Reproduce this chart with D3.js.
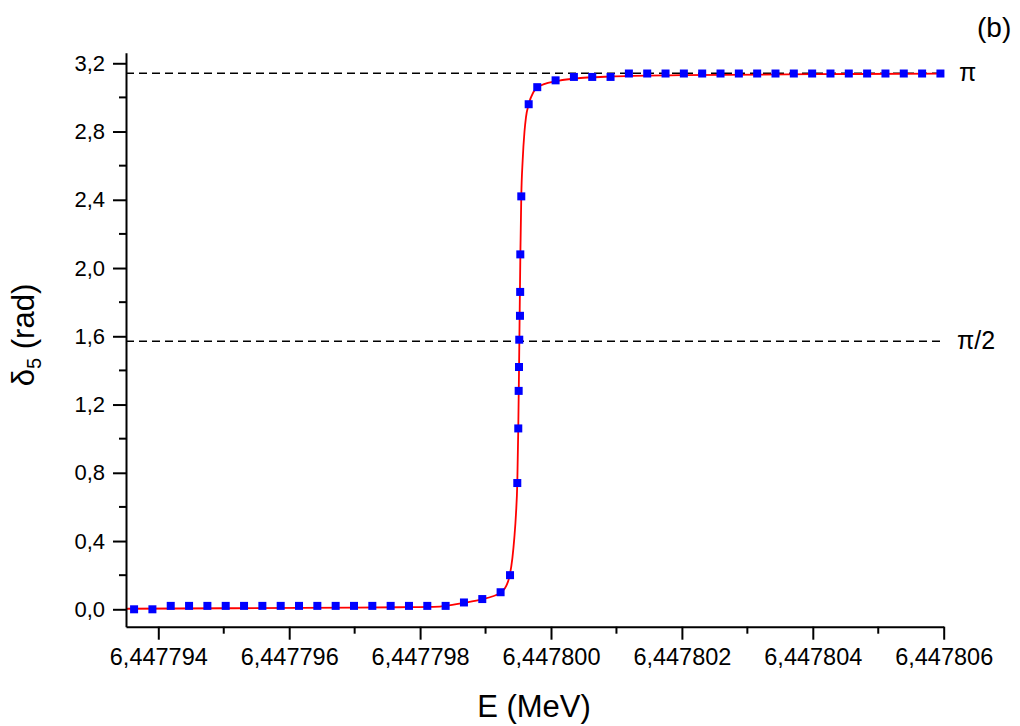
<!DOCTYPE html>
<html lang="en">

<head>
    <meta charset="UTF-8">
    <title>Phase shift delta5</title>
    <script src="https://d3js.org/d3.v7.min.js"></script>
    <style>
        body { margin: 0; background: #fff; }
        text { font-family: Arial, "Liberation Sans", sans-serif; fill: #000; }
    </style>
</head>

<body>
    <div id="chart"></div>
    <script>
        // measured points (E in MeV, delta5 in rad)
        const pointE = [
            6.44779363, 6.44779391, 6.44779419, 6.44779447, 6.44779475, 6.44779503,
            6.44779531, 6.44779559, 6.44779587, 6.44779615, 6.44779643, 6.44779671,
            6.44779699, 6.44779727, 6.44779755, 6.44779783, 6.44779811, 6.44779839,
            6.44779867, 6.44779895, 6.44779923, 6.447799374, 6.447799485, 6.4477995,
            6.447799506, 6.447799511, 6.447799515, 6.447799526, 6.447799529, 6.447799531,
            6.447799546, 6.447799659, 6.44779979, 6.44780007, 6.44780035, 6.44780063,
            6.44780091, 6.44780119, 6.44780147, 6.44780175, 6.44780203, 6.44780231,
            6.44780259, 6.44780287, 6.44780315, 6.44780343, 6.44780371, 6.44780399,
            6.44780427, 6.44780455, 6.44780483, 6.44780511, 6.44780539, 6.44780567,
            6.44780595
        ];
        const pointDelta = [
            0.00, 0.00, 0.02, 0.02, 0.02, 0.02,
            0.02, 0.02, 0.02, 0.02, 0.02, 0.02,
            0.02, 0.02, 0.02, 0.02, 0.02, 0.02,
            0.04, 0.06, 0.10, 0.20, 0.74, 1.06,
            1.28, 1.42, 1.58, 1.72, 1.86, 2.08,
            2.42, 2.96, 3.06, 3.10, 3.12, 3.12,
            3.12, 3.14, 3.14, 3.14, 3.14, 3.14,
            3.14, 3.14, 3.14, 3.14, 3.14, 3.14,
            3.14, 3.14, 3.14, 3.14, 3.14, 3.14,
            3.14
        ];

        // fitted curve
        const fitE = [
            6.44779351, 6.447795, 6.44779616, 6.447797, 6.44779769, 6.4477983,
            6.44779867, 6.44779896, 6.4477991, 6.44779924, 6.44779932, 6.44779937,
            6.44779941, 6.44779944, 6.447799465, 6.447799485, 6.4477995, 6.447799512,
            6.447799522, 6.447799532, 6.447799546, 6.447799567, 6.447799595, 6.447799618,
            6.447799659, 6.44779973, 6.4477998, 6.44780008, 6.44780036, 6.4478009,
            6.447802, 6.447804, 6.447806
        ];
        const fitDelta = [
            0.003, 0.006, 0.008, 0.010, 0.012, 0.016,
            0.038, 0.060, 0.075, 0.100, 0.140, 0.200,
            0.300, 0.420, 0.560, 0.740, 1.060, 1.420,
            1.760, 2.080, 2.420, 2.630, 2.800, 2.885,
            2.960, 3.030, 3.060, 3.095, 3.110, 3.122,
            3.130, 3.136, 3.139
        ];

        // reference levels
        const refLevels = [Math.PI, Math.PI / 2];
        const refLabels = ['\u03C0', '\u03C0/2'];

        // axis ticks
        const xMajor = [6.447794, 6.447796, 6.447798, 6.4478, 6.447802, 6.447804, 6.447806];
        const xMinor = [6.447795, 6.447797, 6.447799, 6.447801, 6.447803, 6.447805];
        const yMajor = [0, 0.4, 0.8, 1.2, 1.6, 2.0, 2.4, 2.8, 3.2];
        const yMinor = [0.2, 0.6, 1.0, 1.4, 1.8, 2.2, 2.6, 3.0];

        const width = 1020, height = 726;
        const plotLeft = 126, plotRight = 943.7, plotTop = 52.7, plotBottom = 626.7;

        const svg = d3.select('#chart')
            .append('svg')
            .attr('width', width)
            .attr('height', height);

        const x = d3.scaleLinear()
            .domain([6.4477935065, 6.447806])
            .range([plotLeft, plotRight]);
        const y = d3.scaleLinear()
            .domain([-0.102, 3.262])
            .range([plotBottom, plotTop]);

        const commaFmt = f => v => d3.format(f)(v).replace('.', ',');

        // dashed reference lines
        svg.selectAll('.ref')
            .data(refLevels)
            .enter()
            .append('line')
            .attr('class', 'ref')
            .attr('x1', plotLeft)
            .attr('x2', 943)
            .attr('y1', d => y(d))
            .attr('y2', d => y(d))
            .attr('stroke', '#000')
            .attr('stroke-width', 1.3)
            .attr('stroke-dasharray', '8,5');

        svg.selectAll('.ref-label')
            .data(refLevels)
            .enter()
            .append('text')
            .attr('x', (d, i) => i === 0 ? 959 : 957)
            .attr('y', d => y(d) + 8)
            .attr('font-size', '25px')
            .text((d, i) => refLabels[i]);

        // fit curve
        const fit = fitE.map((e, i) => [e, fitDelta[i]]);
        svg.append('path')
            .datum(fit)
            .attr('fill', 'none')
            .attr('stroke', '#ff0000')
            .attr('stroke-width', 1.8)
            .attr('d', d3.line()
                .x(d => x(d[0]))
                .y(d => y(d[1]))
                .curve(d3.curveMonotoneX));

        // data points
        const pts = pointE.map((e, i) => [e, pointDelta[i]]);
        const s = 8;
        svg.selectAll('.pt')
            .data(pts)
            .enter()
            .append('rect')
            .attr('x', d => x(d[0]) - s / 2)
            .attr('y', d => y(d[1]) - s / 2)
            .attr('width', s)
            .attr('height', s)
            .attr('fill', '#0000ff');

        // x axis
        const xAxis = svg.append('g')
            .attr('transform', `translate(0,${plotBottom})`)
            .call(d3.axisBottom(x)
                .tickValues(xMajor)
                .tickFormat(commaFmt('.6f'))
                .tickSize(13)
                .tickSizeOuter(0)
                .tickPadding(9));
        xAxis.append('g')
            .selectAll('line')
            .data(xMinor)
            .enter()
            .append('line')
            .attr('x1', d => x(d))
            .attr('x2', d => x(d))
            .attr('y1', 0)
            .attr('y2', 7);

        // y axis
        const yAxis = svg.append('g')
            .attr('transform', `translate(${plotLeft},0)`)
            .call(d3.axisLeft(y)
                .tickValues(yMajor)
                .tickFormat(commaFmt('.1f'))
                .tickSize(13)
                .tickSizeOuter(0)
                .tickPadding(8));
        yAxis.append('g')
            .selectAll('line')
            .data(yMinor)
            .enter()
            .append('line')
            .attr('x1', 0)
            .attr('x2', -7)
            .attr('y1', d => y(d))
            .attr('y2', d => y(d));

        [xAxis, yAxis].forEach(ax => {
            ax.selectAll('path, line')
                .attr('stroke', '#000')
                .attr('stroke-width', 2);
            ax.selectAll('text')
                .attr('font-family', 'Arial, "Liberation Sans", sans-serif')
                .attr('fill', '#000');
        });
        xAxis.selectAll('text').attr('font-size', '23.5px');
        yAxis.selectAll('text').attr('font-size', '22px');

        // axis titles
        svg.append('text')
            .attr('x', 534)
            .attr('y', 717)
            .attr('text-anchor', 'middle')
            .attr('font-size', '31px')
            .text('E (MeV)');

        const yTitle = svg.append('text')
            .attr('transform', 'translate(34,335) rotate(-90)')
            .attr('text-anchor', 'middle')
            .attr('font-size', '31px');
        yTitle.append('tspan').text('\u03B4');
        yTitle.append('tspan').attr('font-size', '20px').attr('dy', 7).text('5');
        yTitle.append('tspan').attr('dy', -7).text(' (rad)');

        // panel label
        svg.append('text')
            .attr('x', 977)
            .attr('y', 37)
            .attr('font-size', '28px')
            .text('(b)');
    </script>
</body>

</html>
